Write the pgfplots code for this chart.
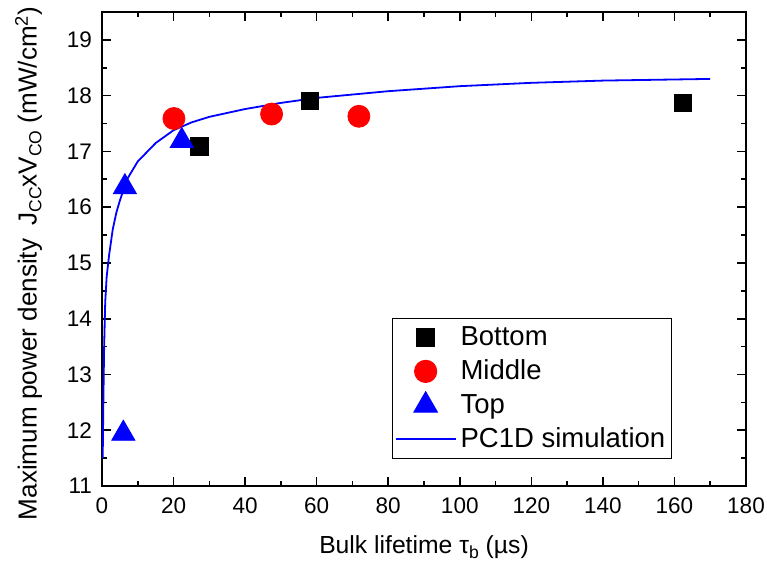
\documentclass[border=0pt]{standalone}
\usepackage{fontspec}
\setmainfont{Liberation Sans}
\usepackage{pgfplots}
\pgfplotsset{compat=1.18}
\pgfplotsset{
    markleg/.style={legend image code/.code={\draw[mark repeat=2,mark phase=2,##1] plot coordinates {(0bp,0bp)(15bp,0bp)(30bp,0bp)};}},
    lineleg/.style={legend image code/.code={\draw[##1] (0bp,0bp) -- (30bp,0bp);}},
}
\newcommand{\sub}[1]{\raisebox{-0.35ex}{\fontsize{8.8}{9}\selectfont #1}}

\begin{document}
\begin{tikzpicture}
\useasboundingbox (-51bp,-41.5bp) rectangle (332.5bp,243bp);
\begin{axis}[
    scale only axis,
    width=322bp, height=237bp,
    xmin=0, xmax=180, ymin=11, ymax=19.5,
    xtick={0,20,...,180}, ytick={11,...,19},
    minor x tick num=1, minor y tick num=1,
    tick align=inside,
    major tick length=4.5bp, minor tick length=2.5bp,
    axis line style={line width=1bp},
    every tick/.style={black, line width=0.8bp},
    tick label style={font=\fontsize{11.3}{13}\selectfont},
    xticklabel style={yshift=-2.5bp},
    yticklabel style={xshift=-1.5bp},
    /pgf/number format/assume math mode=true,
    xlabel={Bulk lifetime τ\sub{b} (µs)},
    ylabel={Maximum power density\hspace{0.5em}J\sub{CC}xV\sub{CO} (mW/cm\textsuperscript{2})},
    xlabel style={font=\fontsize{12.4}{14}\selectfont, at={(axis description cs:0.5,-0.129)}, anchor=center},
    ylabel style={font=\fontsize{13.1}{15}\selectfont, at={(axis description cs:-0.114,0.47)}, anchor=center},
    legend style={at={(0.885,0.057)}, anchor=south east, draw=black, line width=0.6bp,
        font=\fontsize{13.8}{16}\selectfont, inner xsep=1bp, inner ysep=1bp,
        row sep=0bp, nodes={inner sep=2bp, text height=10.5bp, text depth=2.5bp},
        cells={anchor=west}},
]
\addplot[only marks, mark=square*, mark size=4.3bp, black, markleg]
    coordinates {(27.2,17.09) (58.1,17.91) (162.3,17.87)};
\addlegendentry{Bottom}
\addplot[only marks, mark=*, mark size=5.5bp, red, markleg]
    coordinates {(20.1,17.59) (47.4,17.67) (71.8,17.63)};
\addlegendentry{Middle}
\addplot[only marks, mark=triangle*, mark size=6.7bp, blue, markleg]
    coordinates {(6.4,16.36) (22.3,17.19) (5.96,11.94)};
\addlegendentry{Top}
\addplot[blue, line width=0.9bp, no marks, lineleg]
    coordinates {
    (0.2,11.5) (0.4,12.6) (0.6,13.5) (0.9,14.3) (1.3,14.75) (2,15.15)
    (3,15.6) (4,15.9) (5,16.12) (7,16.5) (10,16.82) (15,17.15)
    (20,17.38) (25,17.52) (30,17.62) (40,17.76) (50,17.87) (60,17.96)
    (80,18.08) (100,18.17) (120,18.23) (140,18.27) (170,18.30)};
\addlegendentry{PC1D simulation}
\end{axis}
\end{tikzpicture}
\end{document}
